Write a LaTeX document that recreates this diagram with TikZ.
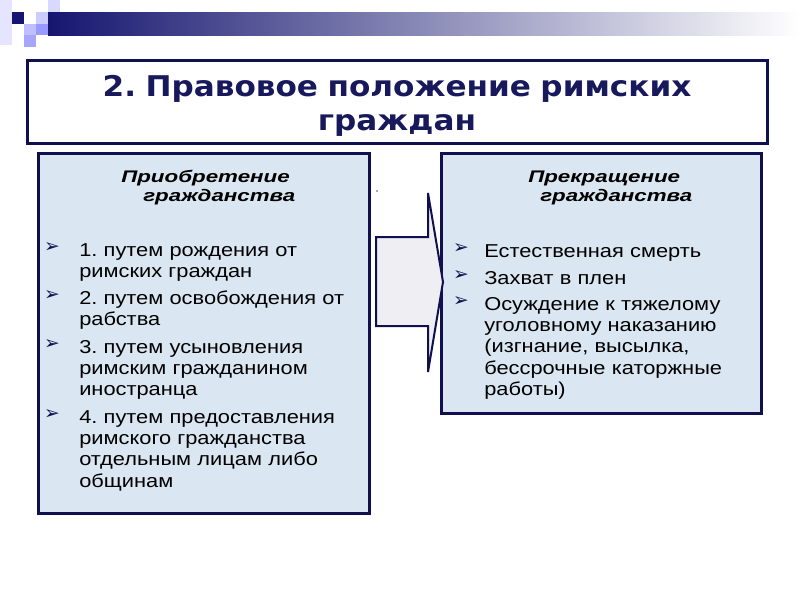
\documentclass[tikz,border=0pt]{standalone}
\usepackage{fontspec}
\setmainfont{Liberation Sans}[FakeStretch=1.17]
\newfontfamily\titlefont{DejaVu Sans}[FakeStretch=1.09]
\newfontfamily\headfont{Liberation Sans}[FakeStretch=1.33]
\newfontfamily\bulletfont{DejaVu Sans}

\definecolor{navy}{RGB}{16,16,78}
\definecolor{titleblue}{RGB}{24,24,92}
\definecolor{bannerblue}{RGB}{22,22,112}
\definecolor{panelblue}{RGB}{218,230,241}
\definecolor{arrowgray}{RGB}{238,238,243}

\tikzset{
  panel/.style={draw=navy, line width=2.25pt, fill=panelblue},
  body/.style={anchor=base west, inner sep=0pt, text width=230pt, align=left,
    font=\fontsize{14}{16.1}\selectfont},
  head/.style={anchor=base west, inner sep=0pt, text width=200pt, align=left,
    font=\headfont\bfseries\itshape\fontsize{12.6}{14.4}\selectfont},
  bullet/.style={inner sep=0pt, text=navy, font=\bulletfont\fontsize{14}{14}\selectfont}
}

\begin{document}
\frenchspacing
\begin{tikzpicture}[x=0.75pt, y=-0.75pt]
    \useasboundingbox (0,0) rectangle (800,600);

    % Banner at the top
    \shade[left color=bannerblue, middle color={rgb,255:red,100;green,100;blue,170}, right color=white]
        (48,12) rectangle (800,35);
    \fill[blue!10!white] (0,0) rectangle (12,45);
    \fill[bannerblue] (12,12) rectangle (24,24);
    \fill[blue!25!white] (24,24) rectangle (36,35);
    \fill[blue!35!white] (24,35) rectangle (36,47);
    \fill[blue!20!white] (36,12) rectangle (48,24);
    \fill[blue!40!white] (36,24) rectangle (48,35);
    \fill[blue!15!white] (48,0) rectangle (60,12);

    % Title
    \draw[draw=navy, line width=2.25pt, fill=white] (27,60) rectangle (767,143);
    \node[anchor=base, inner sep=0pt, text width=540pt, align=center, text=titleblue,
          font=\titlefont\bfseries\fontsize{21.4}{25.5}\selectfont] (title) at (397,96)
        {2. Правовое положение римских\\граждан};

    % Two panels
    \draw[panel] (38,153) rectangle (369,513);
    \draw[panel] (441,153) rectangle (761,413);

    % Block arrow between them
    \draw[draw=navy, line width=1.5pt, fill=arrowgray, line join=miter]
        (376,237) -- (428,237) -- (428,193) -- (443,282) -- (428,372) -- (428,326) -- (376,326) -- cycle;
    \fill[black!70] (377,191) circle (0.9);

    % Left panel
    \node[head] (gainhead) at (121,182) {Приобретение\\\hspace*{16.5pt}гражданства};
    \node[bullet] (gb1) at (52,248) {➢};
    \node[bullet] (gb2) at (52,296) {➢};
    \node[bullet] (gb3) at (52,345) {➢};
    \node[bullet] (gb4) at (52,415) {➢};
    \node[body] (gain1) at (79,256) {1. путем рождения от\\римских граждан};
    \node[body] (gain2) at (79,304) {2. путем освобождения от\\рабства};
    \node[body] (gain3) at (79,353) {3. путем усыновления\\римским гражданином\\иностранца};
    \node[body] (gain4) at (79,423) {4. путем предоставления\\римского гражданства\\отдельным лицам либо\\общинам};

    % Right panel
    \node[head] (losshead) at (528,182) {Прекращение\\\hspace*{9pt}гражданства};
    \node[bullet] (lb1) at (461,249) {➢};
    \node[bullet] (lb2) at (461,276) {➢};
    \node[bullet] (lb3) at (461,302) {➢};
    \node[body] (loss1) at (484,257) {Естественная смерть};
    \node[body] (loss2) at (484,284) {Захват в плен};
    \node[body] (loss3) at (484,310) {Осуждение к тяжелому\\уголовному наказанию\\(изгнание, высылка,\\бессрочные каторжные\\работы)};
\end{tikzpicture}
\end{document}
